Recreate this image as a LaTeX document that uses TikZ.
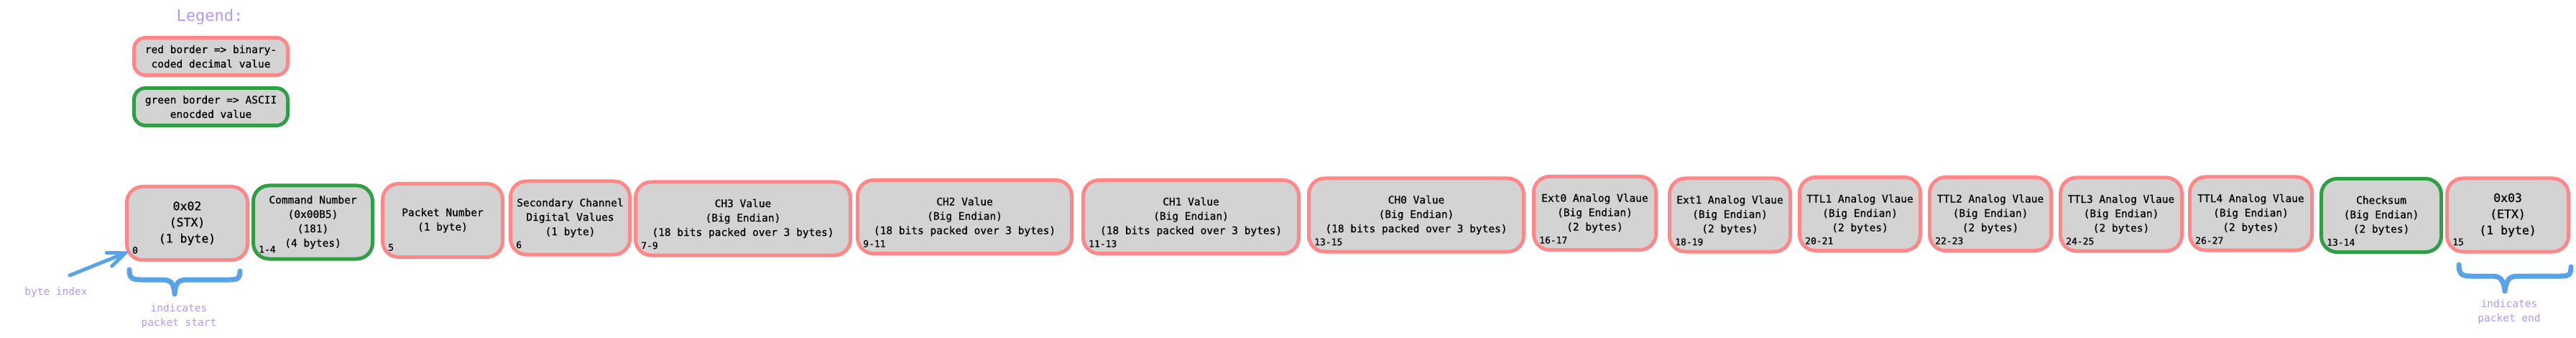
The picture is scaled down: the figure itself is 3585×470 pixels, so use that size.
\documentclass[tikz,border=0pt]{standalone}
\usepackage{fontspec}
\usepackage{tikz}
\usepackage{xcolor}
\usetikzlibrary{positioning, arrows.meta}

\setmonofont[FakeBold=0.6]{DejaVu Sans Mono}
\newfontfamily\notefont{DejaVu Sans Mono}

\definecolor{bcdred}{HTML}{FF8787}
\definecolor{asciigreen}{HTML}{2F9E44}
\definecolor{fieldgray}{HTML}{D3D3D3}
\definecolor{noteblue}{HTML}{57A2E8}
\definecolor{notelav}{HTML}{B197FC}

\begin{document}
\begin{tikzpicture}[x=1pt, y=-1pt,
        field/.style={draw, fill=fieldgray, line width=5pt, rounded corners=22pt,
            minimum height=102pt, align=center, inner sep=0pt,
            font=\ttfamily\fontsize{14.5}{20}\selectfont},
        bcd/.style={field, draw=bcdred},
        ascii/.style={field, draw=asciigreen},
        bigtext/.style={font=\ttfamily\fontsize{16.5}{22.5}\selectfont},
        idx/.style={inner sep=0pt, anchor=south west, font=\ttfamily\fontsize{13}{13}\selectfont},
        note/.style={text=notelav, align=center, inner sep=0pt,
            font=\notefont\fontsize{14.5}{20}\selectfont},
        brace/.style={draw=noteblue, line width=7pt, line cap=round, line join=round}]
        \useasboundingbox (0,0) rectangle (3585,470);

        % legend
        \node[note, font=\notefont\fontsize{22}{22}\selectfont] (legend) at (292,24) {Legend:};
        \node[bcd, minimum width=214pt, minimum height=52pt, rounded corners=16pt] (redkey) at (293.5,78.5) {red border => binary-\\coded decimal value};
        \node[ascii, minimum width=214pt, minimum height=52pt, rounded corners=16pt] (greenkey) at (293.5,148.5) {green border => ASCII\\enocded value};

        % packet fields
        \node[bcd, bigtext, minimum width=168pt] (stx) at (260.5,310.5) {0x02\\(STX)\\(1 byte)};
        \node[ascii, minimum width=166pt] (cmd) at (435.5,309) {Command Number\\(0x00B5)\\(181)\\(4 bytes)};
        \node[bcd, minimum width=167pt] (pkt) at (616,306.5) {Packet Number\\(1 byte)};
        \node[bcd, minimum width=166pt] (sec) at (793.5,303) {Secondary Channel\\Digital Values\\(1 byte)};
        \node[bcd, minimum width=299pt] (ch3) at (1034,304) {CH3 Value\\(Big Endian)\\(18 bits packed over 3 bytes)};
        \node[bcd, minimum width=298pt] (ch2) at (1342.5,301.5) {CH2 Value\\(Big Endian)\\(18 bits packed over 3 bytes)};
        \node[bcd, minimum width=300pt] (ch1) at (1657.5,301.5) {CH1 Value\\(Big Endian)\\(18 bits packed over 3 bytes)};
        \node[bcd, minimum width=299pt] (ch0) at (1971,299) {CH0 Value\\(Big Endian)\\(18 bits packed over 3 bytes)};
        \node[bcd, minimum width=170pt] (ext0) at (2219.5,296.5) {Ext0 Analog Vlaue\\(Big Endian)\\(2 bytes)};
        \node[bcd, minimum width=168pt] (ext1) at (2407.5,299) {Ext1 Analog Vlaue\\(Big Endian)\\(2 bytes)};
        \node[bcd, minimum width=168pt] (ttl1) at (2588.5,297.5) {TTL1 Analog Vlaue\\(Big Endian)\\(2 bytes)};
        \node[bcd, minimum width=169pt] (ttl2) at (2770,297.5) {TTL2 Analog Vlaue\\(Big Endian)\\(2 bytes)};
        \node[bcd, minimum width=169pt] (ttl3) at (2952,298) {TTL3 Analog Vlaue\\(Big Endian)\\(2 bytes)};
        \node[bcd, minimum width=170pt] (ttl4) at (3132.5,297) {TTL4 Analog Vlaue\\(Big Endian)\\(2 bytes)};
        \node[ascii, minimum width=167pt] (chk) at (3314,299.5) {Checksum\\(Big Endian)\\(2 bytes)};
        \node[bcd, bigtext, minimum width=169pt] (etx) at (3490,299) {0x03\\(ETX)\\(1 byte)};

        % byte indices
        \node[idx] (stx-idx) at ([xshift=10pt, yshift=11pt]stx.south west) {0};
        \node[idx] (cmd-idx) at ([xshift=10pt, yshift=11pt]cmd.south west) {1-4};
        \node[idx] (pkt-idx) at ([xshift=10pt, yshift=11pt]pkt.south west) {5};
        \node[idx] (sec-idx) at ([xshift=10pt, yshift=11pt]sec.south west) {6};
        \node[idx] (ch3-idx) at ([xshift=10pt, yshift=11pt]ch3.south west) {7-9};
        \node[idx] (ch2-idx) at ([xshift=10pt, yshift=11pt]ch2.south west) {9-11};
        \node[idx] (ch1-idx) at ([xshift=10pt, yshift=11pt]ch1.south west) {11-13};
        \node[idx] (ch0-idx) at ([xshift=10pt, yshift=11pt]ch0.south west) {13-15};
        \node[idx] (ext0-idx) at ([xshift=10pt, yshift=11pt]ext0.south west) {16-17};
        \node[idx] (ext1-idx) at ([xshift=10pt, yshift=11pt]ext1.south west) {18-19};
        \node[idx] (ttl1-idx) at ([xshift=10pt, yshift=11pt]ttl1.south west) {20-21};
        \node[idx] (ttl2-idx) at ([xshift=10pt, yshift=11pt]ttl2.south west) {22-23};
        \node[idx] (ttl3-idx) at ([xshift=10pt, yshift=11pt]ttl3.south west) {24-25};
        \node[idx] (ttl4-idx) at ([xshift=10pt, yshift=11pt]ttl4.south west) {26-27};
        \node[idx] (chk-idx) at ([xshift=10pt, yshift=11pt]chk.south west) {13-14};
        \node[idx] (etx-idx) at ([xshift=10pt, yshift=11pt]etx.south west) {15};

        % notes
        \node[note] (byteidx) at (78,406) {byte index};
        \node[note] (startnote) at (249,439) {indicates\\packet start};
        \node[note] (endnote) at (3492,433) {indicates\\packet end};

        \coordinate (idxtail) at (97,383);
        \draw[noteblue, line width=5pt, line cap=round,
            -{Straight Barb[length=24pt, width=20pt, line cap=round]}, shorten >=4pt] (idxtail) -- (stx-idx.west);

        % braces
        \draw[brace] (180,375) .. controls (180,386) and (183,389) .. (196,389) -- (226,389)
            .. controls (238,389) and (242,394) .. (243,409)
            .. controls (244,394) and (248,389) .. (260,389) -- (320,389)
            .. controls (332,389) and (334,386) .. (334,377);
        \draw[brace] (3422,368) .. controls (3422,380) and (3425,384) .. (3438,384) -- (3468,384)
            .. controls (3480,384) and (3484,389) .. (3486,405)
            .. controls (3488,389) and (3492,384) .. (3504,384) -- (3564,384)
            .. controls (3576,384) and (3578,381) .. (3578,371);
    \end{tikzpicture}
\end{document}
